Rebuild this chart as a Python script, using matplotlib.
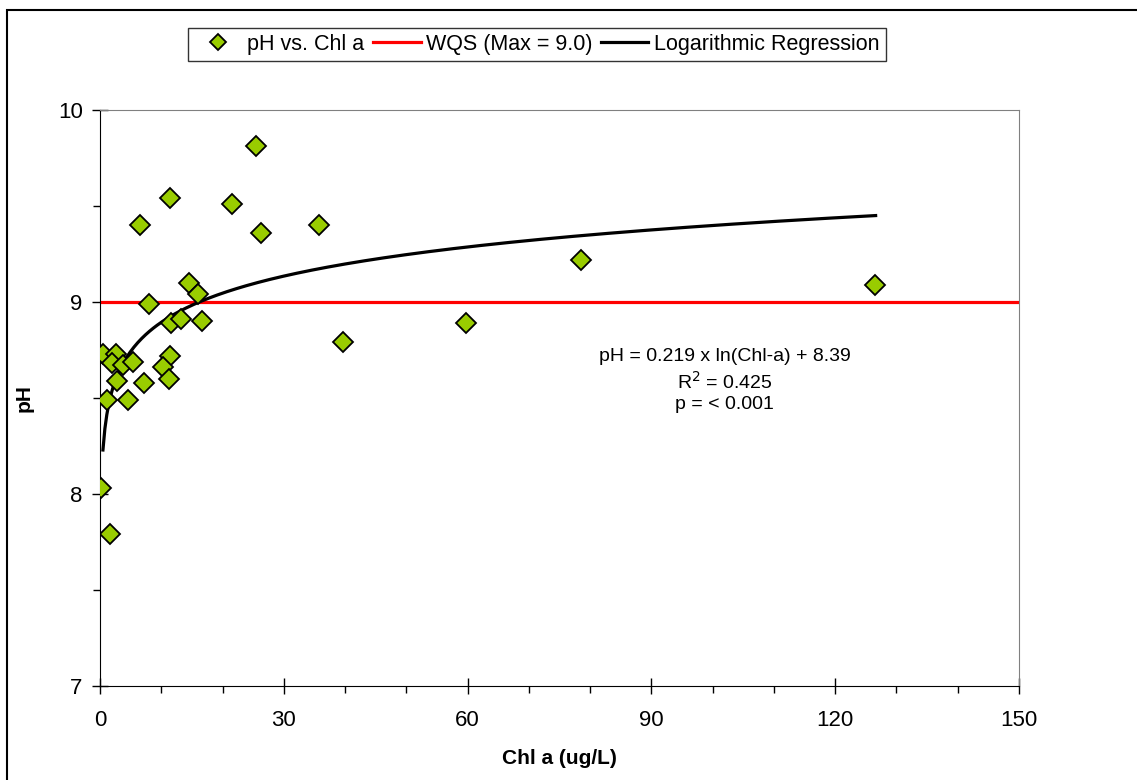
import numpy as np
import matplotlib.pyplot as plt
from matplotlib.patches import Rectangle
from matplotlib.ticker import MultipleLocator

plt.rcParams['font.family'] = ['Liberation Sans', 'DejaVu Sans']

chl_a = [25.4, 11.4, 6.6, 21.5, 26.2, 14.5, 16.0, 8.0, 11.6, 13.2,
         16.7, 0.5, 2.6, 2.0, 3.8, 5.4, 11.4, 10.3, 11.3, 2.7,
         7.2, 1.2, 4.6, 0.1, 1.6, 35.7, 39.7, 59.7, 78.5, 126.5]
ph = [9.81, 9.54, 9.40, 9.51, 9.36, 9.10, 9.04, 8.99, 8.89, 8.91,
      8.90, 8.73, 8.73, 8.68, 8.67, 8.69, 8.72, 8.66, 8.60, 8.59,
      8.58, 8.49, 8.49, 8.03, 7.79, 9.40, 8.79, 8.89, 9.22, 9.09]

# water quality standard and the fitted logarithmic regression
wqs_max = 9.0
reg_slope = 0.219
reg_intercept = 8.39
reg_x_range = (0.48, 126.6)

fig = plt.figure(figsize=(11.37, 7.80), dpi=100)
ax = fig.add_axes([100 / 1137, 1 - 686 / 780, 919 / 1137, 576 / 780])

# outer chart border (top and left visible)
fig.patches.append(Rectangle((7 / 1137, -0.05), 1.2, 1 - 10 / 780 + 0.05,
                             transform=fig.transFigure, fill=False,
                             edgecolor='black', linewidth=1.5))

ax.axhline(wqs_max, color='#FF0000', linewidth=2.3, zorder=2,
           label='WQS (Max = 9.0)')

x_fit = np.linspace(reg_x_range[0], reg_x_range[1], 400)
y_fit = reg_slope * np.log(x_fit) + reg_intercept
ax.plot(x_fit, y_fit, color='black', linewidth=2.3, zorder=3,
        label='Logarithmic Regression')

ax.plot(chl_a, ph, linestyle='none', marker='D', markersize=10,
        markerfacecolor='#99CC00', markeredgecolor='black',
        markeredgewidth=1.3, zorder=4, label='pH vs. Chl a')

ax.set_xlim(0, 150)
ax.set_ylim(7, 10)
ax.xaxis.set_major_locator(MultipleLocator(30))
ax.xaxis.set_minor_locator(MultipleLocator(10))
ax.yaxis.set_major_locator(MultipleLocator(1))
ax.yaxis.set_minor_locator(MultipleLocator(0.5))
ax.tick_params(which='major', direction='inout', length=11, width=1,
               labelsize=16, pad=7)
ax.tick_params(which='minor', direction='out', length=5, width=1)
ax.tick_params(axis='x', which='major', pad=12)

for side in ['top', 'right']:
    ax.spines[side].set_color('#808080')
for side in ['left', 'bottom']:
    ax.spines[side].set_color('black')

ax.set_xlabel('Chl a (ug/L)', fontsize=15, fontweight='bold', labelpad=13)
ax.set_ylabel('pH', fontsize=15, fontweight='bold')
ax.yaxis.set_label_coords(-0.072, 0.5)

ax.text(0.68, 0.53, 'pH = 0.219 x ln(Chl-a) + 8.39\nR$^2$ = 0.425\np = < 0.001',
        transform=ax.transAxes, ha='center', va='center', fontsize=14,
        linespacing=1.3)

handles, labels = ax.get_legend_handles_labels()
order = [2, 0, 1]
leg = fig.legend([handles[i] for i in order], [labels[i] for i in order],
                 loc='center', bbox_to_anchor=(537 / 1137, 1 - 44.5 / 780),
                 ncol=3, fontsize=15.5, frameon=True, fancybox=False,
                 edgecolor='black', handlelength=2.2, handletextpad=0.25,
                 columnspacing=0.4, borderpad=0.3)
leg.get_frame().set_linewidth(1)
leg.legend_handles[0].set_markersize(8)

fig.savefig('out.png', dpi=100)
